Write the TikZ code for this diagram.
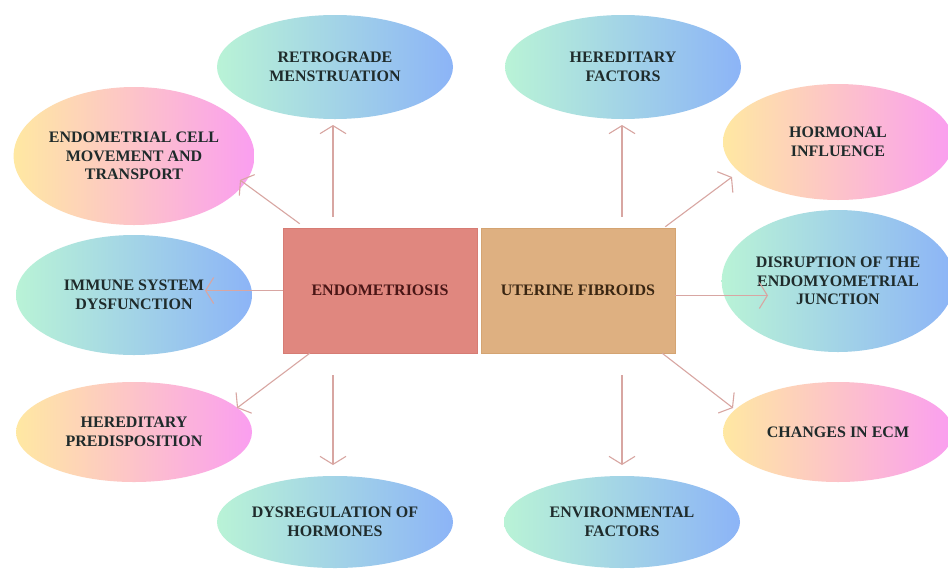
\documentclass[tikz,border=0pt]{standalone}
\usepackage{fontspec}
\setmainfont{Liberation Serif}
\usetikzlibrary{shapes.geometric,arrows.meta,calc}
\definecolor{arrowcol}{HTML}{D8A6A2}
\definecolor{mintc}{HTML}{B9F3D6}
\definecolor{bluec}{HTML}{8CB4F7}
\definecolor{yelc}{HTML}{FFE8A2}
\definecolor{pinkmid}{HTML}{FFC7CD}
\definecolor{magc}{HTML}{FA9EF0}
\definecolor{endofill}{HTML}{E0877F}
\definecolor{endodraw}{HTML}{D67C74}
\definecolor{uterfill}{HTML}{DEB081}
\definecolor{uterdraw}{HTML}{D4A472}
\definecolor{ovaltext}{HTML}{1F2B2B}
\definecolor{endotext}{HTML}{4A1616}
\definecolor{utertext}{HTML}{3A2612}
\tikzset{
  oval/.style={ellipse, inner sep=0pt, align=center, text=ovaltext,
    font=\bfseries\fontsize{16}{18.5}\selectfont},
  blueoval/.style={oval, left color=mintc, right color=bluec},
  pinkoval/.style={oval, left color=yelc, middle color=pinkmid, right color=magc},
  centerbox/.style={rectangle, inner sep=0pt, minimum width=194pt, minimum height=125pt,
    font=\bfseries\fontsize{16}{18.5}\selectfont, line width=0.6pt},
  arr/.style={draw=arrowcol, line width=1.1pt,
    -{Straight Barb[length=8pt,width=26pt,line width=1.1pt]}}
}
\begin{document}
\begin{tikzpicture}[x=1pt,y=-1pt]
\path[fill=white] (0,0) rectangle (948,571);
\useasboundingbox (0,0) rectangle (948,571);

% central boxes
\node[centerbox, fill=endofill, draw=endodraw, text=endotext] (endo) at (380,290.5) {ENDOMETRIOSIS};
\node[centerbox, fill=uterfill, draw=uterdraw, text=utertext] (uter) at (578,290.5) {UTERINE FIBROIDS};

% ovals
\node[blueoval, minimum width=236pt, minimum height=104pt] (retro) at (335,67) {RETROGRADE\\MENSTRUATION};
\node[blueoval, minimum width=236pt, minimum height=104pt] (hfac) at (623,67) {HEREDITARY\\FACTORS};
\node[pinkoval, minimum width=236pt, minimum height=138pt] (cell) at (134,156) {ENDOMETRIAL CELL\\MOVEMENT AND\\TRANSPORT};
\node[pinkoval, minimum width=230pt, minimum height=116pt] (horm) at (838,142) {HORMONAL\\INFLUENCE};
\node[blueoval, minimum width=236pt, minimum height=120pt] (immune) at (134,295) {IMMUNE SYSTEM\\DYSFUNCTION};
\node[blueoval, minimum width=230pt, minimum height=142pt] (disr) at (838,281) {DISRUPTION OF THE\\ENDOMYOMETRIAL\\JUNCTION};
\node[pinkoval, minimum width=236pt, minimum height=100pt] (hpred) at (134,432) {HEREDITARY\\PREDISPOSITION};
\node[pinkoval, minimum width=230pt, minimum height=100pt] (ecm) at (838,432) {CHANGES IN ECM};
\node[blueoval, minimum width=236pt, minimum height=92pt] (dysreg) at (335,522) {DYSREGULATION OF\\HORMONES};
\node[blueoval, minimum width=236pt, minimum height=92pt] (env) at (622,522) {ENVIRONMENTAL\\FACTORS};

% connectors from endometriosis
\draw[arr] ($(endo.north)+(-47,-11)$) -- ($(retro.center)+(-2,58)$);
\draw[arr] ($(endo.north west)+(17,-4)$) -- ($(cell.center)+(106,24)$);
\draw[arr] (endo.west) -- ([xshift=71pt]immune.center |- endo.west);
\draw[arr] ($(endo.south west)+(27,0)$) -- ($(hpred.center)+(103,-24)$);
\draw[arr] ($(endo.south)+(-47,22)$) -- ($(dysreg.center)+(-2,-57)$);

% connectors from uterine fibroids
\draw[arr] ($(uter.north)+(44,-11)$) -- ($(hfac.center)+(-1,58)$);
\draw[arr] ($(uter.north east)+(-10,-1)$) -- ($(horm.center)+(-106,35)$);
\draw[arr] ([yshift=-5pt]uter.east) -- ([xshift=-70pt,yshift=-5pt]disr.center |- uter.east);
\draw[arr] ($(uter.south east)+(-13,0)$) -- ($(ecm.center)+(-105,-24)$);
\draw[arr] ($(uter.south)+(44,22)$) -- ($(env.center)+(0,-57)$);
\end{tikzpicture}
\end{document}
